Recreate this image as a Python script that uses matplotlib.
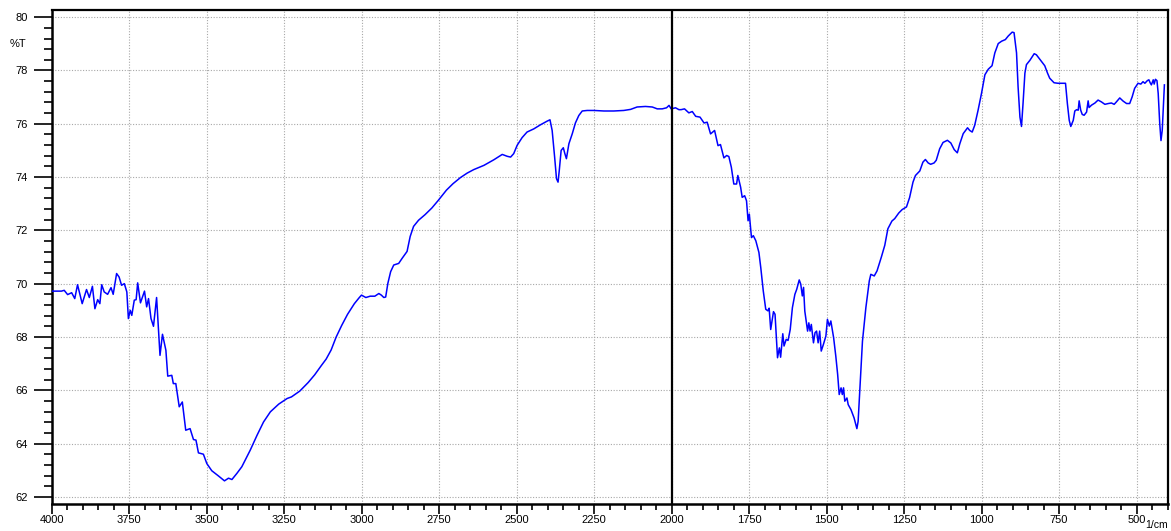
import matplotlib
matplotlib.use("Agg")
import matplotlib.pyplot as plt
from matplotlib.ticker import MultipleLocator, FixedLocator

plt.rcParams['font.family'] = ['Liberation Sans', 'DejaVu Sans']

# --- data ---
wavenumber = [
    4000, 3968, 3959, 3948, 3935, 3925, 3916, 3901, 3887, 3878, 3868, 3860, 3851, 3844,
    3838, 3830, 3819, 3808, 3801, 3790, 3782, 3774, 3765, 3757, 3752, 3746, 3741, 3733,
    3727, 3722, 3713, 3700, 3693, 3687, 3679, 3671, 3661, 3650, 3642, 3631, 3625, 3612,
    3607, 3599, 3588, 3578, 3567, 3553, 3542, 3534, 3526, 3510, 3499, 3483, 3461, 3442,
    3429, 3418, 3402, 3386, 3359, 3337, 3316, 3294, 3267, 3240,
    3226, 3199, 3172, 3151, 3130, 3114, 3098, 3082, 3064, 3045, 3023, 3007, 3000, 2986,
    2972, 2957, 2944, 2936, 2928, 2922, 2915, 2906, 2896, 2880, 2869, 2853, 2843, 2832,
    2816, 2795, 2773, 2752, 2726, 2705,
    2681, 2659, 2638, 2605, 2573, 2546, 2530, 2519, 2509, 2498, 2482, 2466, 2444, 2423,
    2401, 2392, 2385, 2377, 2371, 2366, 2362, 2356, 2349, 2344, 2339, 2331, 2320, 2310,
    2299, 2288, 2272, 2250, 2218, 2186, 2154, 2132, 2111, 2084, 2062, 2046, 2030, 2016,
    2008, 2001, 1987, 1976,
    1969, 1958, 1944, 1933, 1922, 1908, 1895, 1885, 1874, 1861, 1850, 1842, 1831, 1822,
    1815, 1807, 1799, 1790, 1786, 1777, 1772, 1764, 1758, 1753, 1749, 1742, 1736, 1728,
    1718, 1712, 1704, 1696, 1689, 1685, 1680, 1671, 1666, 1658, 1652, 1648, 1641, 1637,
    1630, 1624, 1617, 1610, 1602, 1596, 1588, 1583, 1578, 1574, 1570, 1561, 1557, 1553,
    1549, 1542, 1537, 1532, 1527, 1522, 1517, 1510, 1502, 1497, 1491, 1486, 1477, 1470,
    1464, 1459, 1453, 1449, 1445, 1441, 1434, 1430, 1421, 1411, 1402, 1398, 1391, 1384,
    1373, 1362, 1357, 1346, 1337,
    1323, 1312, 1302, 1289, 1280, 1267, 1256, 1242, 1232, 1221, 1213, 1199, 1189, 1181,
    1172, 1164, 1153, 1146, 1135, 1124, 1110, 1099, 1088, 1078, 1070, 1059, 1045, 1038,
    1030, 1022,
    1011, 1000, 989, 978, 966, 957, 946, 935, 923, 914, 901, 895, 887, 882, 876, 871,
    866, 860, 855, 844, 830, 823, 809, 796, 787, 780, 766, 753, 742, 729, 723, 717, 712,
    704, 699, 693, 688, 685, 680, 675, 669, 661, 656, 653, 645, 634, 624, 613, 602, 591,
    581, 572, 565, 554, 543, 532, 522, 514, 506, 495, 486, 479, 473, 465, 460, 456, 452,
    446, 443, 439, 434, 430, 425, 421, 417, 410,
]
transmittance = [
    69.72, 69.72, 69.75, 69.59, 69.66, 69.44, 69.96, 69.25, 69.78, 69.48, 69.90, 69.06, 69.40, 69.25,
    69.96, 69.69, 69.60, 69.85, 69.60, 70.38, 70.25, 69.94, 70.00, 69.69, 68.69, 69.00, 68.81, 69.38,
    69.40, 70.03, 69.28, 69.72, 69.13, 69.44, 68.69, 68.40, 69.48, 67.31, 68.10, 67.50, 66.53, 66.56,
    66.25, 66.25, 65.38, 65.56, 64.50, 64.56, 64.15, 64.13, 63.65, 63.60, 63.25, 62.98, 62.78, 62.60,
    62.70, 62.65, 62.88, 63.13, 63.75, 64.31, 64.81, 65.19, 65.48, 65.69,
    65.75, 65.97, 66.29, 66.58, 66.92, 67.17, 67.51, 67.99, 68.43, 68.85, 69.25, 69.48, 69.57, 69.48,
    69.53, 69.53, 69.63, 69.57, 69.48, 69.50, 70.01, 70.45, 70.70, 70.76, 70.95, 71.21, 71.77, 72.15,
    72.38, 72.59, 72.84, 73.13, 73.51, 73.75,
    73.98, 74.15, 74.28, 74.44, 74.65, 74.85, 74.78, 74.75, 74.88, 75.19, 75.48, 75.69, 75.81, 75.96,
    76.10, 76.15, 75.75, 74.75, 73.94, 73.81, 74.25, 75.00, 75.10, 74.88, 74.69, 75.25, 75.63, 76.03,
    76.31, 76.48, 76.50, 76.50, 76.48, 76.48, 76.50, 76.54, 76.63, 76.65, 76.63, 76.56, 76.56, 76.60,
    76.69, 76.56, 76.60, 76.53,
    76.53, 76.56, 76.41, 76.46, 76.28, 76.25, 76.03, 76.06, 75.62, 75.75, 75.18, 75.22, 74.72, 74.81,
    74.77, 74.37, 73.74, 73.74, 74.06, 73.62, 73.24, 73.30, 73.11, 72.36, 72.61, 71.73, 71.80, 71.61,
    71.17, 70.60, 69.73, 69.04, 68.98, 69.08, 68.28, 68.95, 68.85, 67.22, 67.59, 67.24, 68.12, 67.66,
    67.91, 67.87, 68.28, 69.10, 69.60, 69.79, 70.14, 69.98, 69.54, 69.86, 68.97, 68.22, 68.53, 68.22,
    68.47, 67.78, 68.16, 68.22, 67.78, 68.22, 67.47, 67.72, 68.03, 68.66, 68.41, 68.60, 67.97, 67.28,
    66.59, 65.84, 66.09, 65.84, 66.09, 65.59, 65.71, 65.46, 65.27, 64.96, 64.56, 64.83, 66.34, 67.84,
    69.10, 70.10, 70.35, 70.29, 70.48,
    71.00, 71.44, 72.06, 72.35, 72.44, 72.65, 72.78, 72.88, 73.23, 73.81, 74.06, 74.23, 74.56, 74.66,
    74.53, 74.48, 74.53, 74.63, 75.06, 75.30, 75.38, 75.28, 75.03, 74.91, 75.25, 75.63, 75.85, 75.75,
    75.69, 75.94,
    76.51, 77.14, 77.84, 78.05, 78.18, 78.66, 79.01, 79.10, 79.16, 79.29, 79.44, 79.42, 78.66, 77.39, 76.25, 75.90,
    76.76, 77.90, 78.22, 78.38, 78.63, 78.59, 78.38, 78.18, 77.90, 77.71, 77.54, 77.52, 77.52, 77.52, 76.76, 76.13, 75.90,
    76.13, 76.48, 76.53, 76.51, 76.86, 76.51, 76.35, 76.32, 76.44, 76.86, 76.61, 76.70, 76.78, 76.89, 76.82, 76.73, 76.76,
    76.78, 76.73, 76.82, 76.97, 76.85, 76.76, 76.76, 77.01, 77.33, 77.52, 77.49, 77.58, 77.52, 77.62, 77.65, 77.54, 77.46,
    77.65, 77.49, 77.67, 77.62, 77.14, 76.00, 75.37, 75.75, 77.46,
]

x_major_ticks = [4000, 3750, 3500, 3250, 3000, 2750, 2500, 2250, 2000, 1750, 1500, 1250, 1000, 750, 500]
y_major_ticks = [62, 64, 66, 68, 70, 72, 74, 76, 78, 80]
x_limits = (4000, 400)
y_limits = (61.75, 80.27)
divider_wn = 2000

W, H = 1171, 531
fig = plt.figure(figsize=(W / 100, H / 100), dpi=100)
ax = fig.add_axes([51.5 / W, 1 - 503.5 / H, (1167.5 - 51.5) / W, (503.5 - 10) / H])

ax.plot(wavenumber, transmittance, color='#0000ff', lw=1.1, zorder=3)
ax.axvline(divider_wn, color='black', lw=1.6, zorder=4)

ax.set_xlim(*x_limits)
ax.set_ylim(*y_limits)

ax.xaxis.set_major_locator(FixedLocator(x_major_ticks))
ax.xaxis.set_minor_locator(MultipleLocator(50))
ax.yaxis.set_major_locator(FixedLocator(y_major_ticks))
ax.yaxis.set_minor_locator(MultipleLocator(0.4))
ax.set_xticklabels([str(t) for t in x_major_ticks])
ax.set_yticklabels([str(t) for t in y_major_ticks])

ax.grid(True, which='major', color='#a8a8a8', linestyle=(0, (1, 1.5)), lw=0.8, zorder=1)

ax.tick_params(axis='x', which='major', direction='out', length=7, width=1.2, pad=1, labelsize=8)
ax.tick_params(axis='x', which='minor', direction='out', length=4, width=1.2)
ax.tick_params(axis='y', which='major', direction='out', length=13, width=1.2, pad=4, labelsize=8)
ax.tick_params(axis='y', which='minor', direction='out', length=6, width=1.2)

for side in ['left', 'bottom']:
    ax.spines[side].set_linewidth(1.8)
for side in ['top', 'right']:
    ax.spines[side].set_linewidth(1.6)

fig.text(18 / W, 1 - 44 / H, '%T', ha='center', va='center', fontsize=8)
fig.text(1157 / W, 1 - 524.5 / H, '1/cm', ha='center', va='center', fontsize=7.5)

fig.savefig('out.png', dpi=100)
